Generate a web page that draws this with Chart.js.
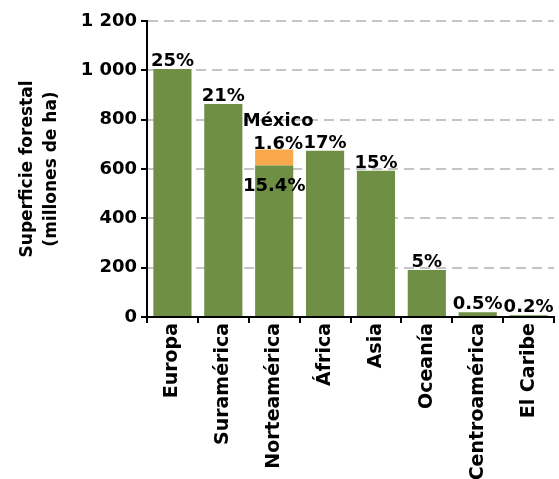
<!DOCTYPE html>
<html>
<head>
<meta charset="utf-8">
<script src="https://cdn.jsdelivr.net/npm/chart.js@4"></script>
<style>
  html,body{margin:0;padding:0;background:#fff;}
  #wrap{width:559px;height:479px;position:relative;}
</style>
</head>
<body>
<div id="wrap"><canvas id="chart" width="559" height="479"></canvas></div>
<script>
// datos de superficie forestal (millones de ha)
var regiones = ['Europa','Suramérica','Norteamérica','África','Asia','Oceanía','Centroamérica','El Caribe'];
var superficie = [1005, 864, 614, 674, 593, 191, 19, 7];
var mexico = [0, 0, 65, 0, 0, 0, 0, 0];
var porcentajes = ['25%','21%','15.4%','17%','15%','5%','0.5%','0.2%'];
var pctMexico = '1.6%';
var yTicks = [0, 200, 400, 600, 800, 1000, 1200];

var fuente = '"DejaVu Sans", sans-serif';
var verde = '#6f8f45';
var naranja = '#f9a84c';

// etiquetas sobre las barras
var etiquetas = {
    id: 'etiquetas',
    afterDatasetsDraw: function(chart){
        var ctx = chart.ctx;
        var metaV = chart.getDatasetMeta(0);
        var metaN = chart.getDatasetMeta(1);
        ctx.save();
        ctx.fillStyle = '#000';
        ctx.font = 'bold 18px ' + fuente;
        ctx.textAlign = 'center';
        metaV.data.forEach(function(bar, i){
            if(mexico[i] > 0){
                // dentro de la barra verde
                ctx.textBaseline = 'top';
                ctx.fillText(porcentajes[i], bar.x, bar.y + 12);
                var nb = metaN.data[i];
                ctx.textBaseline = 'alphabetic';
                ctx.fillText(pctMexico, nb.x + 4, nb.y - 1);
                ctx.fillText('México', nb.x + 4, nb.y - 24);
            }else{
                ctx.textBaseline = 'alphabetic';
                ctx.fillText(porcentajes[i], bar.x, bar.y - 3);
            }
        });
        ctx.restore();
    }
};

new Chart(document.getElementById('chart'), {
    type: 'bar',
    data: {
        labels: regiones,
        datasets: [{
            data: superficie,
            backgroundColor: verde,
            barPercentage: 0.75,
            categoryPercentage: 1
        },{
            data: mexico,
            backgroundColor: naranja,
            barPercentage: 0.75,
            categoryPercentage: 1
        }]
    },
    options: {
        responsive: false,
        animation: false,
        layout: {padding: {top: 21, right: 5, left: 16, bottom: 0}},
        plugins: {legend: {display: false}, tooltip: {enabled: false}},
        scales: {
            x: {
                stacked: true,
                grid: {display: true, drawOnChartArea: false, drawTicks: true, tickLength: 6, color: '#000', lineWidth: 2, offset: true},
                border: {display: true, color: '#000', width: 2},
                ticks: {
                    color: '#000',
                    font: {family: fuente, size: 19, weight: 'bold'},
                    minRotation: 90, maxRotation: 90, padding: 0, autoSkip: false
                },
                afterFit: function(s){ s.height = 162; }
            },
            y: {
                stacked: true,
                min: 0, max: 1200,
                afterBuildTicks: function(s){ s.ticks = yTicks.map(function(v){ return {value: v}; }); },
                grid: {
                    color: '#c4c4c4', lineWidth: 2,
                    tickColor: '#000', tickBorderDash: [], tickLength: 6
                },
                border: {display: true, color: '#000', width: 2, dash: [10, 6]},
                ticks: {
                    color: '#000',
                    font: {family: fuente, size: 18, weight: 'bold'},
                    padding: 4,
                    callback: function(v){ return String(v).replace(/\B(?=(\d{3})+(?!\d))/g, ' '); }
                },
                title: {
                    display: true,
                    text: ['Superficie forestal', '(millones de ha)'],
                    color: '#000',
                    font: {family: fuente, size: 17, weight: 'bold', lineHeight: 1.4},
                    padding: {top: 0, bottom: 4}
                },
                afterFit: function(s){ s.width = 131; }
            }
        }
    },
    plugins: [etiquetas]
});
</script>
</body>
</html>
